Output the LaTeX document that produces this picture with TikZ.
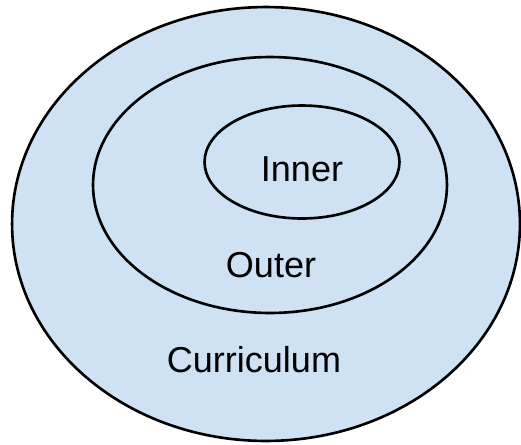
\documentclass[tikz,border=0pt]{standalone}
\usepackage{fontspec}
\setmainfont{Liberation Sans}
\usepackage{xcolor}
\usepackage{tikz}
\usetikzlibrary{shapes.geometric, positioning}
\definecolor{ringblue}{HTML}{CFE2F3}
\tikzset{
	ring/.style={
		draw,
		ellipse,
		line width=1.5pt,
		fill=ringblue,
		inner sep=0pt
	},
	label/.style={
		anchor=base,
		inner sep=0pt,
		font=\fontsize{20.5}{24}\selectfont
	}
}

\begin{document}
\begin{tikzpicture}[x=0.02cm, y=-0.02cm]
		
		\useasboundingbox (0,0) rectangle (521,444);
		
		% Ellipses
		\node[ring, minimum width=10.16cm, minimum height=8.68cm] (curriculum) at (266,224) {};
		\node[ring, minimum width=7.08cm, minimum height=5.12cm] (outer) at (270,185) {};
		\node[ring, minimum width=3.9cm, minimum height=2.26cm] (inner) at (302,162) {};
		
		% Texte
		\node[label] (innertext) at (302,181) {Inner};
		\node[label] (outertext) at (271,277) {Outer};
		\node[label] (currtext) at (254,372) {Curriculum};
		
	\end{tikzpicture}
\end{document}
